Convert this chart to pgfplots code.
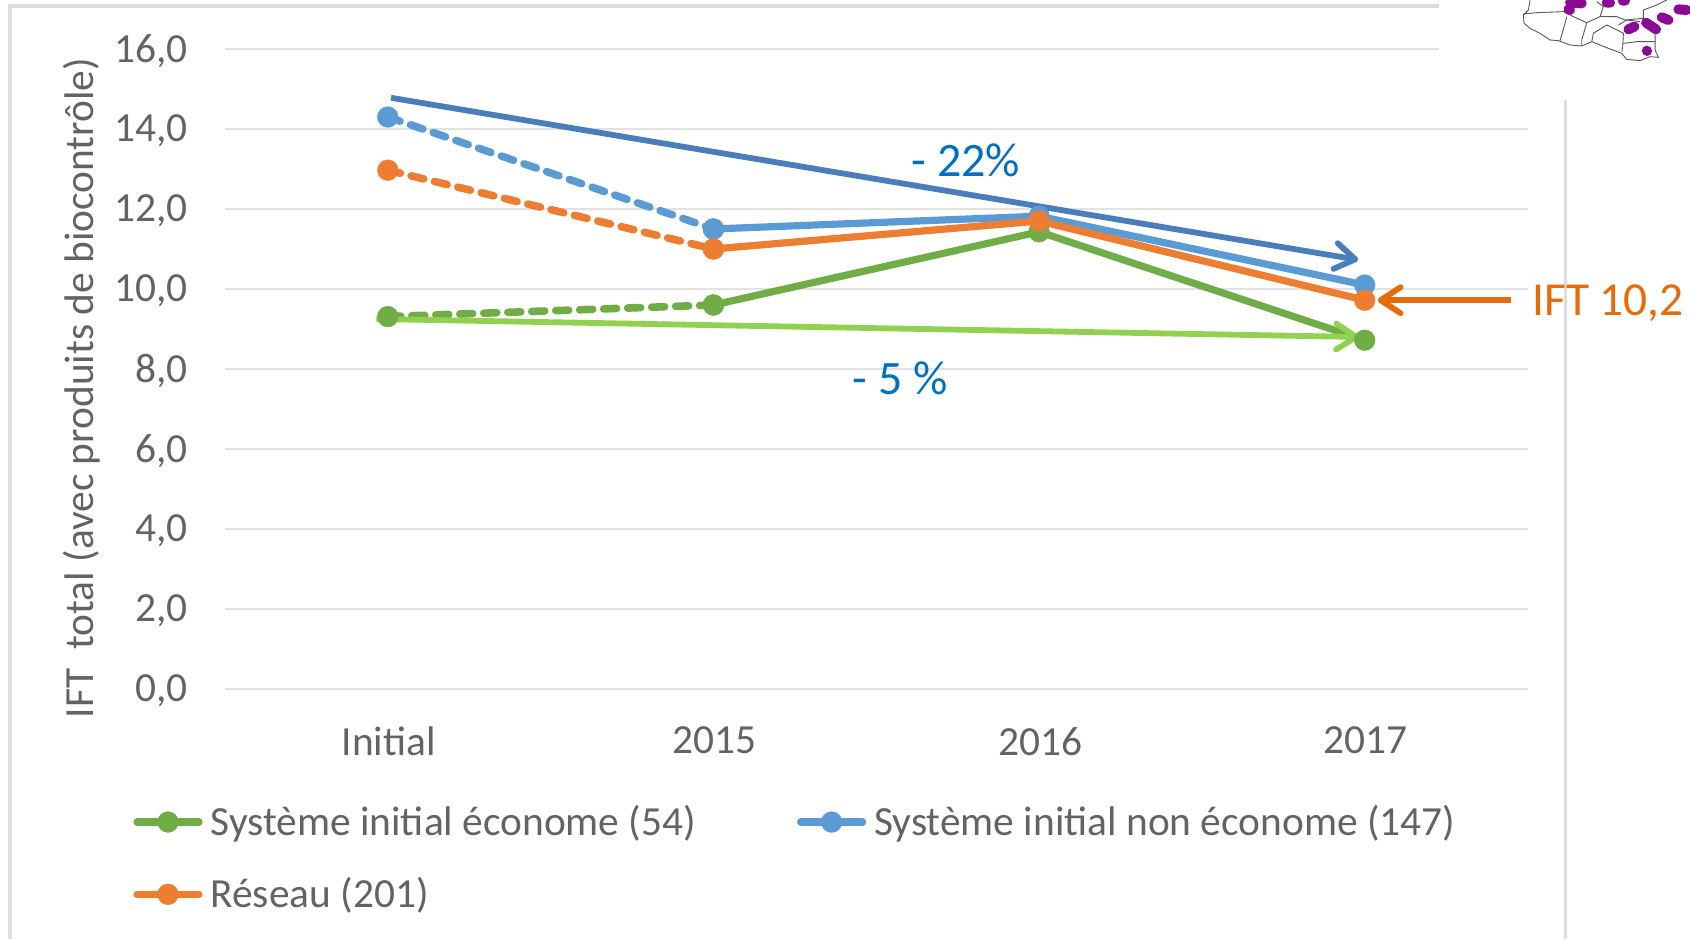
\documentclass[border=0pt]{standalone}
\usepackage{pgfplots}
\usepackage{fontspec}
\setmainfont{Carlito}
\pgfplotsset{compat=1.18}
\usetikzlibrary{arrows.meta}
\definecolor{txtgray}{HTML}{636363}
\definecolor{gridgray}{HTML}{E2E2E2}
\definecolor{framegray}{HTML}{DDDDDD}
\definecolor{sgreen}{HTML}{70AD47}
\definecolor{sblue}{HTML}{5B9BD5}
\definecolor{sorange}{HTML}{ED7D31}
\definecolor{arrblue}{HTML}{4A7EBB}
\definecolor{arrgreen}{HTML}{92D050}
\definecolor{arrorange}{HTML}{E46C0A}
\definecolor{lblblue}{HTML}{0070C0}
\definecolor{mappurple}{HTML}{8A0A96}
\pgfplotstableread{
x y
0 9.31
1 9.60
}\greeninit
\pgfplotstableread{
x y
1 9.60
2 11.43
3 8.72
}\greenmain
\pgfplotstableread{
x y
0 14.30
1 11.50
}\blueinit
\pgfplotstableread{
x y
1 11.50
2 11.82
3 10.10
}\bluemain
\pgfplotstableread{
x y
0 12.97
1 11.00
}\orangeinit
\pgfplotstableread{
x y
1 11.00
2 11.70
3 9.72
}\orangemain
\tikzset{
  series/.style={line width=3.6pt,line cap=round,line join=round,mark=*,mark size=5.2pt,
    mark options={solid,line width=0.2pt,draw=#1,fill=#1},color=#1},
  initdash/.style={line width=3.8pt,dash pattern=on 6.5pt off 5.5pt},
  trend/.style={line width=2.9pt,no marks,-{Straight Barb[length=10pt,width=13pt,line width=2.9pt,round]}},
}
\begin{document}
\begin{tikzpicture}
\useasboundingbox (0,0) rectangle (845pt,469.5pt);
% slide frame
\begin{scope}[x=0.5pt,y=-0.5pt,yshift=469.5pt]
  \draw[framegray,line width=2pt] (10,939) -- (10,6) -- (1439,6);
  \draw[framegray,line width=1.5pt] (1565,100) -- (1565,939);
\end{scope}
\begin{axis}[
  at={(112.5pt,125pt)},anchor=south west,
  scale only axis,width=651.25pt,height=320pt,
  xmin=-0.5,xmax=3.5,ymin=0,ymax=16,
  clip=false,
  axis line style={draw=none},
  tick style={draw=none},
  ymajorgrids,
  grid style={gridgray,line width=1pt},
  xtick={0,1,2,3},
  xticklabels={Initial,2015,2016,2017},
  ytick={0,2,...,16},
  /pgf/number format/fixed,
  /pgf/number format/fixed zerofill,
  /pgf/number format/precision=1,
  /pgf/number format/use comma,
  /pgf/number format/assume math mode=true,
  tick label style={font=\fontsize{20.7}{22}\selectfont,text=txtgray},
  xticklabel style={yshift=-15.5pt,xshift=0.5pt},
  yticklabel style={xshift=-15pt,yshift=-1pt},
  ylabel={IFT\ \ total (avec produits de biocontrôle)},
  ylabel style={font=\fontsize{20.7}{22}\selectfont,text=txtgray,at={(rel axis cs:0,0.5)},anchor=center,yshift=71.5pt,xshift=-9.5pt},
  legend columns=2,
  legend cell align=left,
  legend style={draw=none,fill=none,font=\fontsize{20.7}{22}\selectfont,text=txtgray,
    at={(-46pt,-56pt)},anchor=north west,inner sep=0pt,
    /tikz/every odd column/.append style={column sep=2pt},
    /tikz/every even column/.append style={column sep=48.5pt},
    row sep=15.5pt},
  legend image code/.code={
    \draw[#1,mark repeat=2,mark phase=2] plot coordinates {(0pt,0pt) (15.5pt,0pt) (31pt,0pt)};
  },
]
\addplot[series=sgreen] table[x=x,y=y] {\greenmain};
\addlegendentry{Système initial économe (54)}
\addplot[series=sblue] table[x=x,y=y] {\bluemain};
\addlegendentry{Système initial non économe (147)}
\addplot[series=sorange] table[x=x,y=y] {\orangemain};
\addlegendentry{Réseau (201)}
\addplot[forget plot,series=sgreen,initdash] table[x=x,y=y] {\greeninit};
\addplot[forget plot,series=sblue,initdash] table[x=x,y=y] {\blueinit};
\addplot[forget plot,series=sorange,initdash] table[x=x,y=y] {\orangeinit};
% trend arrows
\addplot[forget plot,trend,arrblue] coordinates {(0.01,14.78) (2.98,10.73)};
\addplot[forget plot,trend,arrgreen] coordinates {(-0.035,9.25) (2.983,8.80)};
\addplot[forget plot,trend,arrorange] coordinates {(3.45,9.72) (3.04,9.72)};
\end{axis}
\begin{scope}[x=0.5pt,y=-0.5pt,yshift=469.5pt]
  \node[text=lblblue,font=\fontsize{24}{26}\selectfont] at (966,160) {- 22\%};
  \node[text=lblblue,font=\fontsize{24}{26}\selectfont] at (900,378) {- 5 \%};
  \node[text=arrorange,font=\fontsize{23.7}{26}\selectfont,anchor=west,inner sep=0pt] at (1532,303) {IFT 10,2};
  % white panel behind the inset map
  \fill[white] (1439,0) rectangle (1690,92);
  % inset map, cropped at the top of the slide
  \begin{scope}[shift={(1400,0)},x=0.1667pt,y=-0.1667pt]
    \clip (300,0) rectangle (870,200);
    \draw[gray!70!black,line width=0.45pt,line join=round]
      (390,0) -- (385,30) -- (370,45) -- (372,70) -- (390,85) -- (420,100) -- (450,120) -- (475,122)
      -- (510,135) -- (545,138) -- (575,125) -- (625,145) -- (665,160) -- (680,178) -- (720,182)
      -- (750,170) -- (775,172) -- (765,150) -- (765,100);
    \draw[gray!70!black,line width=0.45pt,line join=round]
      (370,42) -- (410,38) -- (490,35) -- (520,50) -- (560,68) -- (545,120) -- (545,138);
    \draw[gray!70!black,line width=0.45pt] (500,50) -- (495,70) -- (480,122);
    \draw[gray!70!black,line width=0.45pt] (560,68) -- (600,50) -- (610,20) -- (590,5);
    \draw[gray!70!black,line width=0.45pt] (575,125) -- (580,100) -- (620,75) -- (655,92) -- (670,100) -- (668,140) -- (665,155);
    \draw[gray!70!black,line width=0.45pt] (655,75) -- (680,60) -- (720,65);
    \draw[gray!70!black,line width=0.45pt] (670,130) -- (710,125) -- (765,125);
    \draw[gray!70!black,line width=0.45pt] (600,50) -- (650,50) -- (675,60) -- (730,55) -- (730,30) -- (770,15) -- (800,0);
    \draw[mappurple,line width=5pt,line cap=round,line join=round]
      (510,8) -- (545,10) (505,28) -- (510,30) (620,8) -- (630,8) (668,2) -- (675,2)
      (685,88) -- (703,80) (738,68) -- (768,88) (785,52) -- (805,60) (835,28) -- (860,30)
      (740,152) -- (741,153);
  \end{scope}
\end{scope}
\end{tikzpicture}
\end{document}
